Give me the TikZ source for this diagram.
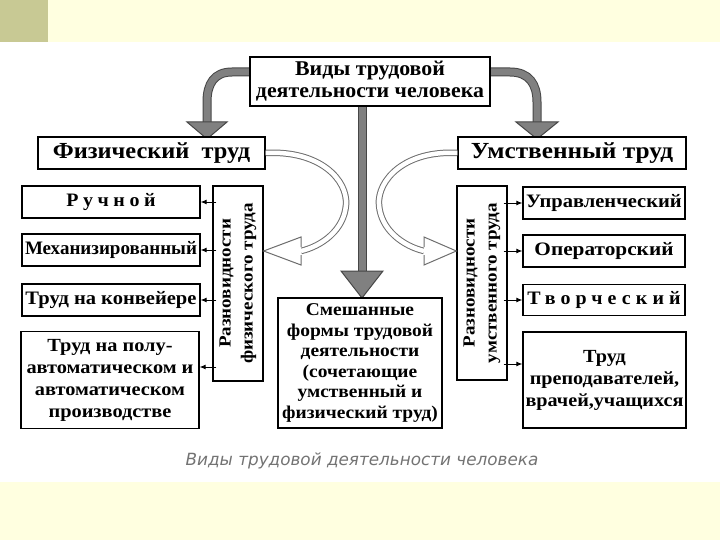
\documentclass[tikz,border=0pt]{standalone}
\usepackage{fontspec}
\setmainfont{Liberation Serif}
\newfontfamily\capfont{DejaVu Sans}
\usetikzlibrary{calc,arrows.meta}
\definecolor{bandyellow}{RGB}{255,255,224}
\definecolor{olivesq}{RGB}{200,201,148}
\definecolor{arrowgray}{RGB}{128,128,128}
\definecolor{arrowedge}{RGB}{70,70,70}
\definecolor{hollowedge}{RGB}{110,110,110}
\newcommand{\fsz}[3]{\bfseries\fontsize{#1}{#2}\selectfont\addfontfeature{FakeStretch=#3}}
\begin{document}
\begin{tikzpicture}[x=1pt,y=-1pt,
  box/.style={draw=black,line width=1.3pt,fill=white,inner sep=0pt,align=center,font=\bfseries},
  sz/.style 2 args={minimum width=#1pt,minimum height=#2pt},
  smallarrow/.style={line width=0.9pt,-{Latex[length=6pt,width=5pt]}},
  greyshaft/.style={line width=1pt,draw=arrowedge,double=arrowgray,double distance=7pt},
  greyhead/.style={fill=arrowgray,draw=arrowedge,line width=1pt},
  hollowshaft/.style={line width=1pt,draw=hollowedge,double=white,double distance=4.5pt},
  hollowhead/.style={fill=white,draw=hollowedge,line width=1pt,line join=miter}]
\useasboundingbox (0,0) rectangle (720,540);
% background
\fill[white] (0,0) rectangle (720,540);
\fill[bandyellow] (0,0) rectangle (720,42);
\fill[olivesq] (0,0) rectangle (48,42);
\fill[bandyellow] (0,482) rectangle (720,540);

% coordinates for grey arrows
\coordinate (lstart) at (251,72);
\coordinate (rstart) at (489,72);
\coordinate (cstart) at (362,106);
% grey arrows (drawn below boxes)
\draw[greyshaft] (lstart) -- (232,72) .. controls (214,72) and (207,84) .. (207,102) -- (207,123);
\draw[greyhead] (187,122) -- (227,122) -- (207,139) -- cycle;
\draw[greyshaft] (rstart) -- (510,72) .. controls (529,72) and (537,84) .. (537,102) -- (537,123);
\draw[greyhead] (516,122) -- (558,122) -- (537,139) -- cycle;
\draw[greyshaft] (cstart) -- (362,272);
\draw[greyhead] (341,271) -- (383,271) -- (362,298) -- cycle;

% boxes
\node[box,sz={240}{49},font=\fsz{21}{22}{1.04}] (title) at (370,81.5) {Виды трудовой\\деятельности человека};
\node[box,sz={227}{32},font=\fsz{23}{24}{1.06}] (phys) at (151.5,153) {Физический\ \ труд};
\node[box,sz={228}{32},font=\fsz{23}{24}{1.1}] (ment) at (572,153) {Умственный труд};

\node[box,sz={178}{32},font=\fsz{19}{20}{1.05}\addfontfeature{LetterSpace=24}] (ruch) at (111,202) {Ручной};
\node[box,sz={178}{32},font=\fsz{19}{20}{1.0}] (mech) at (111,250) {Механизированный};
\node[box,sz={178}{32},font=\fsz{19}{20}{1.08}] (konv) at (111,300) {Труд на конвейере};
\node[box,sz={178}{97},font=\fsz{18.5}{22}{1.1}] (avto) at (110,380) {Труд на полу-\\автоматическом и\\автоматическом\\производстве};

\node[box,sz={50}{195}] (lvert) at (238,283.5) {};
\node[rotate=90,align=center,inner sep=0pt,font=\fsz{17}{22}{1.12}] (ltext) at (lvert.center) {Разновидности\\физического труда};

\node[box,sz={164}{130},font=\fsz{18}{20.5}{1.08}] (mix) at (360,363) {Смешанные\\формы трудовой\\деятельности\\(сочетающие\\умственный и\\физический труд)};

\node[box,sz={50}{194}] (rvert) at (482,283) {};
\node[rotate=90,align=center,inner sep=0pt,font=\fsz{17}{22}{1.12}] (rtext) at (rvert.center) {Разновидности\\умственного труда};

\node[box,sz={162}{32},font=\fsz{19}{20}{1.08}] (upr) at (604,203) {Управленческий};
\node[box,sz={162}{32},font=\fsz{19}{20}{1.12}] (oper) at (604,251) {Операторский};
\node[box,sz={162}{31},font=\fsz{19}{20}{1.05}\addfontfeature{LetterSpace=27}] (tvor) at (604,300) {Творческий};
\node[box,sz={163}{96},font=\fsz{18.5}{22}{1.09}] (prep) at (604.5,380) {Труд\\преподавателей,\\врачей,учащихся};

% small arrows
\foreach \t in {ruch,mech,konv}{
  \draw[smallarrow] ($(lvert.west |- \t.east)+(4,0)$) -- (\t.east);
}
\draw[smallarrow] ($(lvert.west |- avto.east)+(4,-13)$) -- ($(avto.east)+(0,-13)$);
\foreach \t in {upr,oper,tvor}{
  \draw[smallarrow] ($(rvert.east |- \t.west)+(-4,0)$) -- (\t.west);
}
\draw[smallarrow] ($(rvert.east |- prep.west)+(-4,-16)$) -- ($(prep.west)+(0,-16)$);

% hollow curved arrows
\draw[hollowshaft] (phys.east) .. controls (320,150) and (348,180) .. (346,205) .. controls (344,230) and (322,246) .. (301,251);
\draw[hollowhead] (301,247) -- (301,237) -- (lvert.east |- 0,251) -- (301,265) -- (301,255);
\draw[hollowshaft] (ment.west) .. controls (405,150) and (377,180) .. (379,205) .. controls (381,230) and (403,246) .. (424,251);
\draw[hollowhead] (424,247) -- (424,237) -- (rvert.west |- 0,251) -- (424,265) -- (424,255);

% caption
\node[font=\capfont\itshape\fontsize{16.8}{18}\selectfont,text=black!55] (caption) at (362,461) {Виды трудовой деятельности человека};
\end{tikzpicture}
\end{document}
